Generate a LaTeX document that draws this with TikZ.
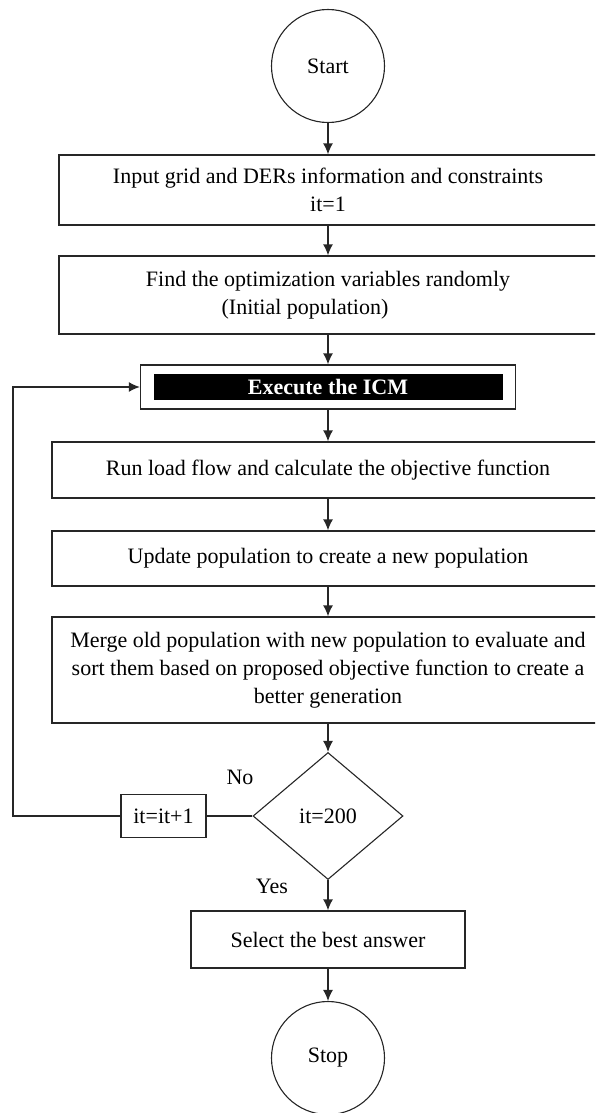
\documentclass[tikz,border=0pt]{standalone}
\usepackage{fontspec}
\setmainfont{Liberation Serif}
\usetikzlibrary{shapes.geometric,arrows.meta}
\begin{document}
\begin{tikzpicture}[x=1pt, y=-1pt,
		every node/.style={font=\fontsize{22}{28}\selectfont},
		procbox/.style={draw=black!85, line width=1.3pt, inner sep=0pt, align=center},
		termcirc/.style={draw=black!85, circle, line width=1.1pt, minimum size=113pt, inner sep=0pt},
		decide/.style={draw=black!85, diamond, line width=1.1pt, minimum width=150pt, minimum height=127pt, inner sep=0pt},
		arr/.style={->, >={Latex[length=11pt, width=10pt]}, line width=1.3pt, draw=black!85}]
		\clip (0,0) rectangle (595,1113);
		\node[termcirc] (start) at (328,66) {Start};
		\node[procbox, minimum width=538pt, minimum height=70pt] (input) at (328,190) {Input grid and DERs information and constraints\\ it=1};
		\node[procbox, minimum width=538pt, minimum height=78pt] (init) at (328,295) {Find the optimization variables randomly\\ (Initial population)\hspace*{46pt}};
		\node[procbox, minimum width=375pt, minimum height=44pt] (icm) at (328,387) {};
		\node[fill=black, text=white, inner sep=0pt, minimum width=349pt, minimum height=26pt, font=\fontsize{22}{28}\selectfont\bfseries] (icmlabel) at (icm.center) {Execute the ICM};
		\node[procbox, minimum width=552pt, minimum height=56pt] (flow) at (328,470) {Run load flow and calculate the objective function};
		\node[procbox, minimum width=552pt, minimum height=55pt] (update) at (328,558.5) {Update population to create a new population};
		\node[procbox, minimum width=552pt, minimum height=106pt] (merge) at (328,670) {Merge old population with new population to evaluate and\\ sort them based on proposed objective function to create a\\ better generation};
		\node[decide] (check) at (328,816) {it=200};
		\node[procbox, minimum width=85pt, minimum height=43pt] (inc) at (163.5,816) {it=it+1};
		\node (no) at (240,777) {No};
		\node (yes) at (272,886) {Yes};
		\node[procbox, minimum width=274pt, minimum height=57pt] (best) at (328,939.5) {Select the best answer};
		\node[termcirc] (stop) at (328,1058) {Stop};
		\coordinate (loop) at (13,816);
		% main flow
		\draw[arr] (start) -- (input);
		\draw[arr] (input) -- (init);
		\draw[arr] (init) -- (icm);
		\draw[arr] (icm) -- (flow);
		\draw[arr] (flow) -- (update);
		\draw[arr] (update) -- (merge);
		\draw[arr] (merge) -- (check);
		\draw[arr] (check) -- (best);
		\draw[arr] (best) -- (stop);
		% back loop
		\draw[line width=1.3pt, draw=black!85] (check) -- (inc);
		\draw[arr] (inc) -- (loop) |- (icm);
	\end{tikzpicture}
\end{document}
